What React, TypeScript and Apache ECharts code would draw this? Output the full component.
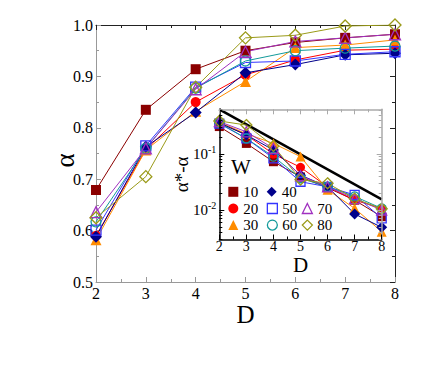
import React, { useEffect, useRef } from 'react';
import * as echarts from 'echarts';

// ---------- data ----------
const D_VALUES = [2, 3, 4, 5, 6, 7, 8];
const W_NAMES = ['10', '20', '30', '40', '50', '60', '70', '80'];

// main panel: alpha vs D
const ALPHA_W10 = [0.679, 0.835, 0.914, 0.950, 0.966, 0.975, 0.982];
const ALPHA_W20 = [0.590, 0.758, 0.850, 0.903, 0.932, 0.951, 0.953];
const ALPHA_W30 = [0.582, 0.757, 0.832, 0.890, 0.956, 0.961, 0.971];
const ALPHA_W40 = [0.588, 0.763, 0.830, 0.907, 0.923, 0.942, 0.945];
const ALPHA_W50 = [0.601, 0.765, 0.879, 0.927, 0.930, 0.943, 0.948];
const ALPHA_W60 = [0.617, 0.760, 0.877, 0.930, 0.950, 0.955, 0.959];
const ALPHA_W70 = [0.636, 0.760, 0.875, 0.948, 0.968, 0.975, 0.982];
const ALPHA_W80 = [0.625, 0.705, 0.879, 0.975, 0.980, 0.998, 1.000];

// inset: alpha* - alpha vs D (log scale)
const GAP_W10 = [0.31, 0.155, 0.073, 0.039, 0.025, 0.015, 0.0076];
const GAP_W20 = [0.36, 0.22, 0.100, 0.058, 0.026, 0.015, 0.0107];
const GAP_W30 = [0.37, 0.23, 0.155, 0.090, 0.023, 0.0107, 0.0041];
const GAP_W40 = [0.36, 0.22, 0.118, 0.042, 0.026, 0.0085, 0.0049];
const GAP_W50 = [0.35, 0.19, 0.084, 0.032, 0.026, 0.0186, 0.0071];
const GAP_W60 = [0.36, 0.19, 0.090, 0.037, 0.026, 0.0175, 0.0107];
const GAP_W70 = [0.38, 0.25, 0.126, 0.041, 0.026, 0.016, 0.0100];
const GAP_W80 = [0.39, 0.33, 0.140, 0.035, 0.030, 0.016, 0.0105];

const REF_LINE_D = [2, 8];
const REF_LINE_V = [0.63, 0.0155];

const MAIN_ALPHA = [ALPHA_W10, ALPHA_W20, ALPHA_W30, ALPHA_W40, ALPHA_W50, ALPHA_W60, ALPHA_W70, ALPHA_W80];
const INSET_GAP = [GAP_W10, GAP_W20, GAP_W30, GAP_W40, GAP_W50, GAP_W60, GAP_W70, GAP_W80];

// ---------- styles ----------
const STYLES = [
  { color: '#8B0000', symbol: 'rect', filled: true, size: 10 },
  { color: '#FF0000', symbol: 'circle', filled: true, size: 10 },
  { color: '#FF8C00', symbol: 'triangle', filled: true, size: 11 },
  { color: '#00008B', symbol: 'diamond', filled: true, size: 12 },
  { color: '#3535FF', symbol: 'rect', filled: false, size: 10 },
  { color: '#139A9A', symbol: 'circle', filled: false, size: 10 },
  { color: '#A030C0', symbol: 'triangle', filled: false, size: 11 },
  { color: '#9A9A18', symbol: 'diamond', filled: false, size: 12 },
];

// legend grid: [column, row] for each W
const LEGEND_CELL = [[0, 0], [0, 1], [0, 2], [1, 0], [1, 1], [1, 2], [2, 1], [2, 2]];
const LEGEND_COL_LEFT = [228.3, 266.7, 301.7];
const LEGEND_ROW_TOP = [184.3, 201, 217.6];

const SERIF = 'Liberation Serif, serif';
const LOG_MIN = -2.527;
const LOG_MAX = -0.2;

function itemStyleFor(s: any) {
  return s.filled
    ? { color: s.color, borderWidth: 0 }
    : { color: 'rgba(0,0,0,0)', borderColor: s.color, borderWidth: 1.3 };
}

export default function App() {
  const ref = useRef<HTMLDivElement>(null);
  useEffect(() => {
    if (!ref.current) return;
    const chart = echarts.init(ref.current, undefined, { renderer: 'svg' });

    const minorLog: number[] = [];
    for (let e = -3; e <= -1; e++) {
      for (let k = 2; k <= 9; k++) {
        const v = Math.log10(k * Math.pow(10, e));
        if (v >= LOG_MIN && v <= LOG_MAX) minorLog.push(v);
      }
    }
    const majorLog = [-2, -1];

    const mainSeries = MAIN_ALPHA.map((vals, i) => ({
      type: 'line',
      name: W_NAMES[i],
      xAxisIndex: 0,
      yAxisIndex: 0,
      data: D_VALUES.map((d, j) => [d, vals[j]]),
      symbol: STYLES[i].symbol,
      symbolSize: STYLES[i].size,
      color: STYLES[i].color,
      lineStyle: { color: STYLES[i].color, width: 1 },
      itemStyle: itemStyleFor(STYLES[i]),
      z: 2,
    }));

    const insetSeries = INSET_GAP.map((vals, i) => ({
      type: 'line',
      name: W_NAMES[i],
      xAxisIndex: 2,
      yAxisIndex: 2,
      data: D_VALUES.map((d, j) => [d, Math.log10(vals[j])]),
      symbol: STYLES[i].symbol,
      symbolSize: STYLES[i].size - 1,
      color: STYLES[i].color,
      lineStyle: { color: STYLES[i].color, width: 1 },
      itemStyle: itemStyleFor(STYLES[i]),
      z: 6,
    }));

    const refSeries = {
      type: 'line',
      name: 'ref',
      xAxisIndex: 2,
      yAxisIndex: 2,
      data: REF_LINE_D.map((d, j) => [d, Math.log10(REF_LINE_V[j])]),
      symbol: 'none',
      lineStyle: { color: '#000', width: 2.5 },
      z: 5,
    };

    const mkX = (grid: number, pos: string, color: string, width: number, labels: boolean, fs: number, margin: number, name?: string, nameGap?: number, nameSize?: number, z = 0) => ({
      type: 'value', gridIndex: grid, position: pos, min: 2, max: 8, interval: 1, z,
      axisLine: { show: true, onZero: false, lineStyle: { color, width } },
      axisTick: { show: true, inside: true, length: 5, lineStyle: { color, width: 1 } },
      minorTick: { show: true, splitNumber: 2, length: 3, lineStyle: { color, width: 1 } },
      splitLine: { show: false }, minorSplitLine: { show: false },
      axisLabel: { show: labels, color: '#000', fontFamily: SERIF, fontSize: fs, margin },
      name: name || '', nameLocation: 'middle', nameGap: nameGap || 0, nameMoveOverlap: false,
      nameTextStyle: { color: '#000', fontFamily: SERIF, fontSize: nameSize || 12 },
    });

    const option: any = {
      animation: false,
      backgroundColor: '#fff',
      textStyle: { fontFamily: SERIF },
      grid: [
        { left: 96, top: 25, width: 299, height: 257, show: false },
        { left: 219.3, top: 109.3, width: 162.4, height: 130.2, show: true, backgroundColor: '#fff', borderWidth: 0, z: 3 },
      ],
      xAxis: [
        mkX(0, 'bottom', '#999', 1, true, 16, 3, 'D', 19.5, 25),
        mkX(0, 'top', '#222', 1, false, 16, 3),
        mkX(1, 'bottom', '#000', 1.5, true, 14, 0, 'D', 15, 21, 7),
        mkX(1, 'top', '#aaa', 1.5, false, 14, 0, undefined, undefined, undefined, 7),
      ],
      yAxis: [
        {
          type: 'value', gridIndex: 0, position: 'left', min: 0.5, max: 1.0, interval: 0.1,
          axisLine: { show: true, onZero: false, lineStyle: { color: '#999', width: 1 } },
          axisTick: { show: true, inside: true, length: 5, lineStyle: { color: '#999' } },
          minorTick: { show: true, splitNumber: 2, length: 3, lineStyle: { color: '#999' } },
          splitLine: { show: false }, minorSplitLine: { show: false },
          axisLabel: { color: '#000', fontFamily: SERIF, fontSize: 16, margin: 3, formatter: (v: number) => v.toFixed(1) },
          name: 'α', nameLocation: 'middle', nameGap: 18, nameRotate: 90, nameMoveOverlap: false,
          nameTextStyle: { color: '#000', fontFamily: SERIF, fontSize: 27, padding: [0, 14, 0, 0] },
        },
        {
          type: 'value', gridIndex: 0, position: 'right', min: 0.5, max: 1.0, interval: 0.1,
          axisLine: { show: true, onZero: false, lineStyle: { color: '#222', width: 1 } },
          axisTick: { show: true, inside: true, length: 5, lineStyle: { color: '#222' } },
          minorTick: { show: true, splitNumber: 2, length: 3, lineStyle: { color: '#222' } },
          splitLine: { show: false }, minorSplitLine: { show: false },
          axisLabel: { show: false },
        },
        {
          type: 'value', gridIndex: 1, position: 'left', min: LOG_MIN, max: LOG_MAX, z: 7,
          axisLine: { show: true, onZero: false, lineStyle: { color: '#000', width: 1.5 } },
          axisTick: { show: true, inside: true, length: 5, customValues: majorLog, lineStyle: { color: '#000' } },
          splitLine: { show: false },
          axisLabel: {
            customValues: majorLog, margin: 3, color: '#000',
            formatter: (v: number) => `{b|10}{s|${Math.round(v)}}`,
            rich: {
              b: { fontFamily: SERIF, fontSize: 15, color: '#000' },
              s: { fontFamily: SERIF, fontSize: 10, color: '#000', padding: [0, 0, 9, 0] },
            },
          },
          name: 'α*-α', nameLocation: 'middle', nameGap: 28, nameRotate: 90, nameMoveOverlap: false,
          nameTextStyle: { color: '#000', fontFamily: SERIF, fontSize: 19 },
        },
        {
          type: 'value', gridIndex: 1, position: 'left', min: LOG_MIN, max: LOG_MAX, z: 7,
          axisLine: { show: false },
          axisTick: { show: true, inside: true, length: 3, customValues: minorLog, lineStyle: { color: '#000' } },
          splitLine: { show: false },
          axisLabel: { show: false },
        },
        {
          type: 'value', gridIndex: 1, position: 'right', min: LOG_MIN, max: LOG_MAX, z: 7,
          axisLine: { show: true, onZero: false, lineStyle: { color: '#aaa', width: 1.5 } },
          axisTick: { show: true, inside: true, length: 5, customValues: majorLog, lineStyle: { color: '#aaa' } },
          splitLine: { show: false },
          axisLabel: { show: false },
        },
        {
          type: 'value', gridIndex: 1, position: 'right', min: LOG_MIN, max: LOG_MAX, z: 7,
          axisLine: { show: false },
          axisTick: { show: true, inside: true, length: 3, customValues: minorLog, lineStyle: { color: '#aaa' } },
          splitLine: { show: false },
          axisLabel: { show: false },
        },
      ],
      legend: W_NAMES.map((name, i) => ({
        orient: 'vertical',
        left: LEGEND_COL_LEFT[LEGEND_CELL[i][0]],
        top: LEGEND_ROW_TOP[LEGEND_CELL[i][1]],
        padding: 0,
        itemWidth: 10,
        itemHeight: 10,
        selectedMode: false,
        z: 8,
        textStyle: { color: '#000', fontFamily: SERIF, fontSize: 15 },
        data: [{ name, icon: STYLES[i].symbol, itemStyle: itemStyleFor(STYLES[i]) }],
      })),
      graphic: [
        {
          type: 'text', left: 231, top: 156, z: 8,
          style: { text: 'W', fontFamily: SERIF, fontSize: 21, fill: '#000' },
        },
      ],
      series: [...mainSeries, refSeries, ...insetSeries],
    };

    chart.setOption(option);
    return () => chart.dispose();
  }, []);

  return <div ref={ref} style={{ position: 'fixed', left: 0, top: 0, width: 430, height: 369 }} />;
}
